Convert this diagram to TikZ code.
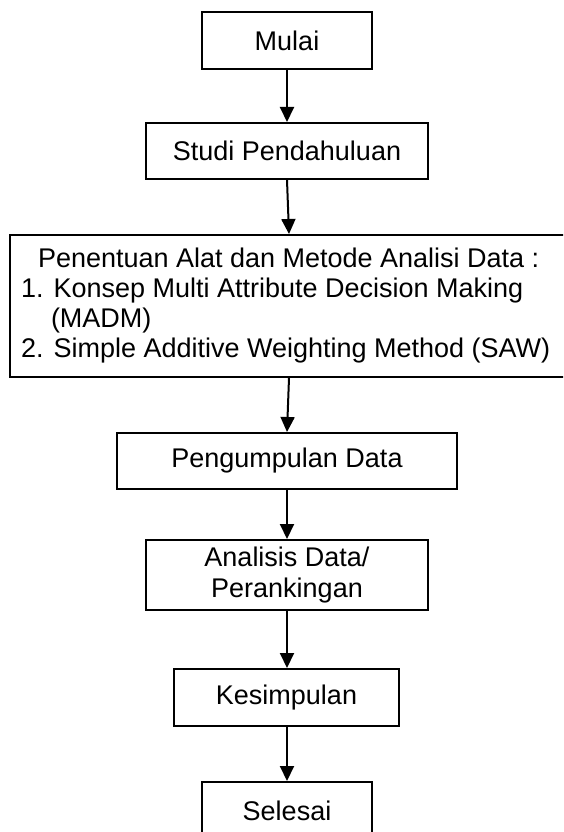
\documentclass[tikz,border=0pt]{standalone}
\usepackage{fontspec}
\setmainfont{Liberation Sans}
\usetikzlibrary{arrows.meta}

\tikzset{
  stepbox/.style={draw, line width=2pt, inner sep=0pt, align=center,
    font=\fontsize{27}{31}\selectfont},
  flow/.style={line width=2pt, -{Triangle[length=15pt,width=14pt]}}
}

\begin{document}
\begin{tikzpicture}[x=1pt, y=-1pt]
  \useasboundingbox (0,0) rectangle (563,832);
  \clip (0,0) rectangle (563,832);

  % process steps, top to bottom
  \node[stepbox, minimum width=170pt, minimum height=57pt] (mulai) at (287,40.5) {Mulai};
  \node[stepbox, minimum width=282pt, minimum height=56pt] (studi) at (287,151) {Studi Pendahuluan};
  \node[stepbox, minimum height=142pt, text width=560pt, inner xsep=11pt,
        align=flush left, font=\fontsize{27}{30}\selectfont, anchor=west] (tools) at (9,306)
    {\hspace*{17pt}Penentuan Alat dan Metode Analisi Data :\\
     1. Konsep Multi Attribute Decision Making\\
     \hspace*{30pt}(MADM)\\
     2. Simple Additive Weighting Method (SAW)};
  \node[stepbox, minimum width=340pt, minimum height=56pt] (collect) at (287,461) {Pengumpulan Data};
  \node[stepbox, minimum width=282pt, minimum height=70pt] (analysis) at (287,575) {Analisis Data/\\Perankingan};
  \node[stepbox, minimum width=225pt, minimum height=57pt] (concl) at (286.5,697.5) {Kesimpulan};
  \node[stepbox, minimum width=170pt, minimum height=57pt] (finish) at (287,810.5) {Selesai};

  % connectors
  \draw[flow] (mulai) -- (studi);
  \draw[flow] (studi.south) -- ([xshift=2pt]studi.south |- tools.north);
  \draw[flow] ([xshift=2pt]collect.north |- tools.south) -- (collect.north);
  \draw[flow] (collect) -- (analysis);
  \draw[flow] (analysis.south) -- (concl.north -| analysis.south);
  \draw[flow] (concl.south -| analysis.south) -- (finish.north -| analysis.south);
\end{tikzpicture}
\end{document}
